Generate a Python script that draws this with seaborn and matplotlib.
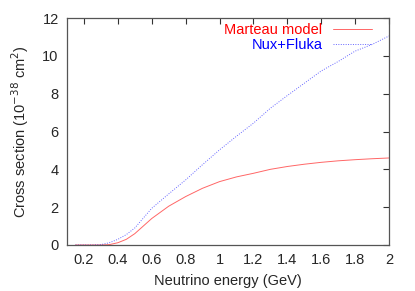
import matplotlib
matplotlib.use("Agg")
import matplotlib.pyplot as plt
import seaborn as sns
import pandas as pd

energy = [0.15, 0.2, 0.25, 0.3, 0.35, 0.4, 0.45, 0.5, 0.6, 0.7, 0.8, 0.9, 1.0, 1.1, 1.2,
          1.3, 1.4, 1.5, 1.6, 1.7, 1.8, 1.9, 2.0]
marteau = [0.0, 0.0, 0.0, 0.0, 0.02, 0.12, 0.3, 0.6, 1.4, 2.05, 2.56, 3.0, 3.35, 3.6, 3.79,
           4.0, 4.15, 4.27, 4.37, 4.45, 4.51, 4.56, 4.6]
nux_fluka = [0.0, 0.0, 0.0, 0.02, 0.12, 0.3, 0.55, 0.9, 1.94, 2.7, 3.44, 4.25, 5.03, 5.75, 6.44,
             7.23, 7.9, 8.55, 9.2, 9.7, 10.25, 10.6, 11.05]
xticks = [0.2, 0.4, 0.6, 0.8, 1.0, 1.2, 1.4, 1.6, 1.8, 2.0]
xticklabels = ["0.2", "0.4", "0.6", "0.8", "1", "1.2", "1.4", "1.6", "1.8", "2"]
yticks = [0, 2, 4, 6, 8, 10, 12]

df = pd.DataFrame({
    "E": energy * 2,
    "xs": marteau + nux_fluka,
    "model": ["Marteau model"] * len(energy) + ["Nux+Fluka"] * len(energy),
})

sns.set_style("white")
plt.rcParams["font.family"] = ["Liberation Sans", "DejaVu Sans"]
FS = 10.5

fig = plt.figure(figsize=(4.15, 2.91), dpi=100)
ax = fig.add_axes([67/415, 1 - 245/291, (389-67)/415, (245-18)/291])

sns.lineplot(data=df, x="E", y="xs", hue="model", style="model",
             palette={"Marteau model": "#ff0000", "Nux+Fluka": "#0000ff"},
             dashes={"Marteau model": "", "Nux+Fluka": (1, 1.5)},
             linewidth=0.7, ax=ax, legend=True)
for ln in ax.lines:
    ln.set_alpha(0.6)

ax.set_xlim(0.1, 2.0)
ax.set_ylim(0, 12)
ax.set_xticks(xticks)
ax.set_xticklabels(xticklabels)
ax.set_yticks(yticks)
ax.tick_params(direction="in", top=True, right=True, length=4, width=0.8,
               labelsize=FS, color="#333333", pad=6)
for s in ax.spines.values():
    s.set_color("#555555")
    s.set_linewidth(0.9)
ax.set_xlabel("Neutrino energy (GeV)", fontsize=FS, labelpad=5)
ax.set_ylabel("Cross section (10$^{-38}$ cm$^2$)", fontsize=FS, labelpad=8)

leg = ax.legend(loc="upper right", frameon=False, markerfirst=False,
                fontsize=FS, handlelength=2.7, handletextpad=0.7,
                labelspacing=0.05, borderpad=0, borderaxespad=0,
                bbox_to_anchor=(372/415, 1 - 23/291), bbox_transform=fig.transFigure)
for t, c in zip(leg.get_texts(), ["#ff0000", "#0000ff"]):
    t.set_color(c)

fig.savefig("out.png", dpi=100)
